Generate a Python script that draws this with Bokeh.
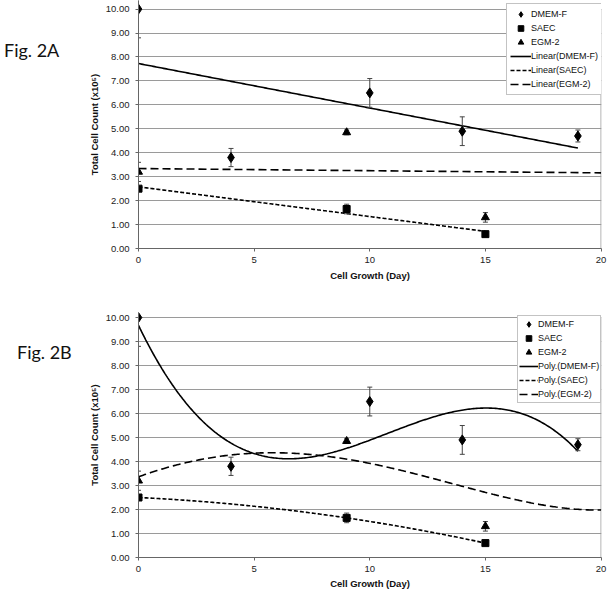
import numpy as np
from bokeh.plotting import figure
from bokeh.models import Range1d, FixedTicker, NumeralTickFormatter, Legend, LegendItem, Div
from bokeh.layouts import column, row
from bokeh.embed import file_html
from bokeh.resources import INLINE

# ---------------- data ----------------
days_dmem = [0, 4, 10, 14, 19]
dmem = [10.0, 3.8, 6.5, 4.9, 4.7]
dmem_err = [1.2, 0.38, 0.6, 0.6, 0.25]

days_saec = [0, 9, 15]
saec = [2.5, 1.65, 0.6]
saec_err = [0.0, 0.2, 0.05]

days_egm = [0, 9, 15]
egm = [3.2, 4.85, 1.3]
egm_err = [0.4, 0.1, 0.2]

# EGM-2 trend lines as printed in the original figure
egm_linear_days = [0, 20]
egm_linear_vals = [3.34, 3.16]
egm_poly_days = [0, 2, 4, 5, 7, 9, 11.3, 13.6, 15, 17, 20]
egm_poly_vals = [3.36, 3.96, 4.25, 4.33, 4.36, 4.07, 3.71, 3.01, 2.69, 2.32, 1.97]

x_ticks = [0, 5, 10, 15, 20]
y_ticks = [0, 1, 2, 3, 4, 5, 6, 7, 8, 9, 10]
y_title = "Total Cell Count (x10\u2075)"
x_title = "Cell Growth (Day)"
labels_a = ["DMEM-F", "SAEC", "EGM-2", "Linear(DMEM-F)", "Linear(SAEC)", "Linear(EGM-2)"]
labels_b = ["DMEM-F", "SAEC", "EGM-2", "Poly.(DMEM-F)", "Poly.(SAEC)", "Poly.(EGM-2)"]

FONT = "Liberation Sans"
GRID = "#9a9a9a"
DIV_W = 75
FIG_W = 533


def make_fig(height, top_border, bottom_border, y_end, tick_standoff, title_standoff):
    p = figure(width=FIG_W, height=height, output_backend="svg", toolbar_location=None,
               x_range=Range1d(0, 20.02), y_range=Range1d(0, y_end),
               min_border_left=63, min_border_right=7,
               min_border_top=top_border, min_border_bottom=bottom_border)
    p.outline_line_color = None
    p.background_fill_color = "white"
    p.xgrid.visible = False
    p.ygrid.ticker = FixedTicker(ticks=y_ticks)
    p.ygrid.grid_line_color = GRID
    p.ygrid.grid_line_width = 1
    p.xaxis.ticker = FixedTicker(ticks=x_ticks)
    p.yaxis.ticker = FixedTicker(ticks=y_ticks)
    p.yaxis.formatter = NumeralTickFormatter(format="0.00")
    for ax in (p.xaxis[0], p.yaxis[0]):
        ax.axis_line_color = "#666"
        ax.major_tick_line_color = "#666"
        ax.minor_tick_line_color = None
        ax.major_tick_in = 0
        ax.major_tick_out = 3
        ax.major_label_text_font = FONT
        ax.major_label_text_font_size = "9.5px"
        ax.major_label_text_color = "#222"
        ax.axis_label_text_font = FONT
        ax.axis_label_text_font_size = "9.5px"
        ax.axis_label_text_font_style = "bold"
        ax.axis_label_text_color = "#111"
    p.xaxis.major_label_standoff = tick_standoff
    p.xaxis.axis_label_standoff = title_standoff
    p.yaxis.major_label_standoff = 6
    p.yaxis.axis_label_standoff = 3
    p.xaxis.axis_label = x_title
    p.yaxis.axis_label = y_title
    # right border of the plot area
    p.segment(x0=[x_ticks[-1]], y0=[y_ticks[0]], x1=[x_ticks[-1]], y1=[y_ticks[-1]],
              line_color=GRID, line_width=1)
    return p


def error_bars(p, xs, ys, errs):
    lo = [y - e for y, e in zip(ys, errs)]
    hi = [y + e for y, e in zip(ys, errs)]
    p.segment(x0=xs, y0=lo, x1=xs, y1=hi, line_color="#444", line_width=1)
    p.scatter(xs, lo, marker="dash", size=5, line_color="#444", line_width=1)
    p.scatter(xs, hi, marker="dash", size=5, line_color="#444", line_width=1)


def add_points(p):
    error_bars(p, days_dmem, dmem, dmem_err)
    error_bars(p, days_saec, saec, saec_err)
    error_bars(p, days_egm, egm, egm_err)
    p.scatter(days_dmem, dmem, marker="diamond", size=10, color="black")
    p.scatter(days_saec, saec, marker="square", size=7, color="black")
    p.scatter(days_egm, egm, marker="triangle", size=8, color="black")
    # smaller copies that only serve as legend swatches (as in the original)
    k1 = p.scatter(days_dmem, dmem, marker="diamond", size=7, color="black", visible=False)
    k2 = p.scatter(days_saec, saec, marker="square", size=5, color="black", visible=False)
    k3 = p.scatter(days_egm, egm, marker="triangle", size=6, color="black", visible=False)
    return k1, k2, k3


def fit_curve(xs, ys, deg):
    c = np.polyfit(xs, ys, deg)
    xx = np.linspace(xs[0], xs[-1], 300)
    return xx, np.polyval(c, xx)


def make_legend(labels, renderers, loc, row_h, glyph_w, pad):
    return Legend(items=[LegendItem(label=t, renderers=[r]) for t, r in zip(labels, renderers)],
                  location=loc, margin=0, padding=pad, spacing=0,
                  label_height=row_h, glyph_height=row_h, glyph_width=glyph_w, label_standoff=0,
                  label_text_font=FONT, label_text_font_size="9px", label_text_color="#111",
                  inactive_fill_alpha=0, click_policy="none",
                  border_line_color="#888", border_line_width=1, background_fill_alpha=1)


def fig_label(text, h, left, top):
    return Div(text=text, width=DIV_W, height=h, margin=0,
               styles={"padding-left": f"{left}px", "padding-top": f"{top}px",
                       "font-family": "Lato", "font-size": "18px", "line-height": "1.2",
                       "color": "#111", "white-space": "nowrap", "box-sizing": "border-box"})


SOLID = dict(line_color="black", line_width=1.6)
SHORT = dict(line_color="black", line_width=1.6, line_dash="4 2")
LONG = dict(line_color="black", line_width=1.6, line_dash="8 4")

# ---------------- Fig. 2A (linear trend lines) ----------------
pa = make_fig(290, 0, 42, 10.36, 5, 4)
xx, yy = fit_curve(days_dmem, dmem, 1)
la1 = pa.line(xx, yy, **SOLID)
xx, yy = fit_curve(days_saec, saec, 1)
la2 = pa.line(xx, yy, **SHORT)
la3 = pa.line(egm_linear_days, egm_linear_vals, **LONG)
a1, a2, a3 = add_points(pa)
pa.add_layout(make_legend(labels_a, [a1, a2, a3, la1, la2, la3], (368, 153), 14, 21, 3))

# ---------------- Fig. 2B (polynomial trend lines) ----------------
pb = make_fig(302, 22, 35, 10.21, 5, 3)
xx, yy = fit_curve(days_dmem, dmem, 3)
lb1 = pb.line(xx, yy, **SOLID)
xx, yy = fit_curve(days_saec, saec, 2)
lb2 = pb.line(xx, yy, **SHORT)
xx, yy = fit_curve(egm_poly_days, egm_poly_vals, 4)
lb3 = pb.line(xx, yy, **LONG)
b1, b2, b3 = add_points(pb)
pb.add_layout(make_legend(labels_b, [b1, b2, b3, lb1, lb2, lb3], (379, 154), 14, 19, 1))

layout = column(row(fig_label("Fig. 2A", 290, 4, 40), pa, spacing=0),
                row(fig_label("Fig. 2B", 302, 17, 52), pb, spacing=0),
                spacing=0)
open("out.html", "w").write(file_html(layout, INLINE))
